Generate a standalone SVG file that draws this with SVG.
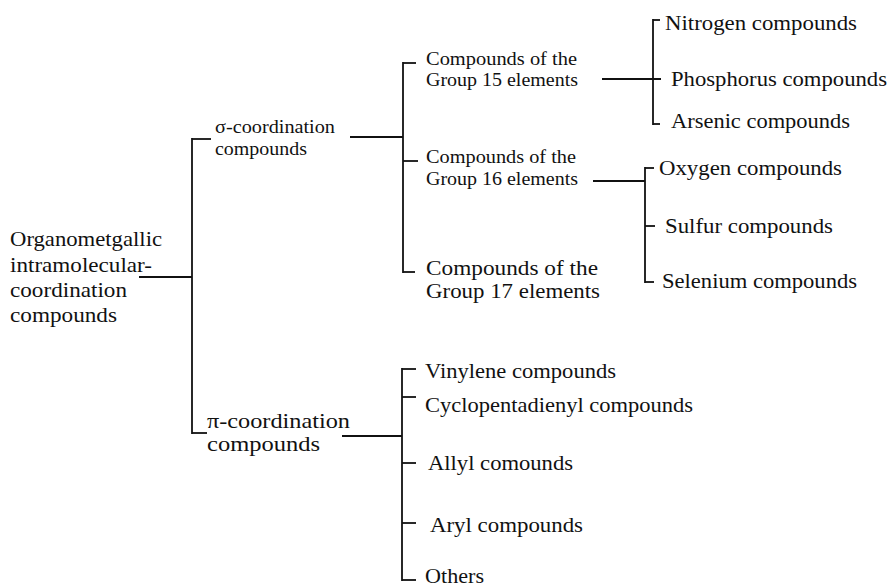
<svg xmlns="http://www.w3.org/2000/svg" width="894" height="587" viewBox="0 0 894 587">
<style>
  text { font-family: 'Liberation Serif', 'DejaVu Serif', 'Times New Roman', serif; fill: #111111; }
  .b { font-size: 22px; }
  .s { font-size: 18.5px; }
  .c line { stroke: #111111; stroke-width: 1.8; fill: none; }
</style>
<rect width="894" height="587" fill="#ffffff"/>
<g id="connectors" class="c">
  <line x1="139" y1="277" x2="192" y2="277"/>
  <line x1="192" y1="138.1" x2="192" y2="433.9"/>
  <line x1="192" y1="139" x2="211" y2="139"/>
  <line x1="192" y1="433" x2="207" y2="433"/>
  <line x1="350" y1="137" x2="403" y2="137"/>
  <line x1="403" y1="62.1" x2="403" y2="272.9"/>
  <line x1="403" y1="63" x2="416" y2="63"/>
  <line x1="403" y1="161" x2="418" y2="161"/>
  <line x1="403" y1="272" x2="415" y2="272"/>
  <line x1="602" y1="79" x2="661" y2="79"/>
  <line x1="653" y1="19.1" x2="653" y2="124.9"/>
  <line x1="653" y1="20" x2="660" y2="20"/>
  <line x1="653" y1="124" x2="660" y2="124"/>
  <line x1="593" y1="181" x2="645" y2="181"/>
  <line x1="645" y1="167.1" x2="645" y2="282.9"/>
  <line x1="645" y1="168" x2="654" y2="168"/>
  <line x1="645" y1="226" x2="655" y2="226"/>
  <line x1="645" y1="282" x2="654" y2="282"/>
  <line x1="342" y1="436" x2="402" y2="436"/>
  <line x1="402" y1="368.1" x2="402" y2="580.9"/>
  <line x1="402" y1="369" x2="416" y2="369"/>
  <line x1="402" y1="397" x2="416" y2="397"/>
  <line x1="402" y1="463" x2="416" y2="463"/>
  <line x1="402" y1="523" x2="416" y2="523"/>
  <line x1="402" y1="580" x2="416" y2="580"/>
</g>
<g id="root">
  <text class="b" x="10" y="246" textLength="152" lengthAdjust="spacingAndGlyphs">Organometgallic</text>
  <text class="b" x="10" y="272" textLength="142" lengthAdjust="spacingAndGlyphs">intramolecular-</text>
  <text class="b" x="10" y="297" textLength="117" lengthAdjust="spacingAndGlyphs">coordination</text>
  <text class="b" x="10" y="322" textLength="107" lengthAdjust="spacingAndGlyphs">compounds</text>
</g>
<g id="sigma">
  <text class="s" x="215" y="133" textLength="120" lengthAdjust="spacingAndGlyphs">σ-coordination</text>
  <text class="s" x="215" y="155" textLength="92" lengthAdjust="spacingAndGlyphs">compounds</text>
</g>
<g id="pi">
  <text class="b" x="207" y="428" textLength="143" lengthAdjust="spacingAndGlyphs">π-coordination</text>
  <text class="b" x="207" y="451" textLength="113" lengthAdjust="spacingAndGlyphs">compounds</text>
</g>
<g id="group15">
  <text class="s" x="426" y="65" textLength="151" lengthAdjust="spacingAndGlyphs">Compounds of the</text>
  <text class="s" x="426" y="86" textLength="152" lengthAdjust="spacingAndGlyphs">Group 15 elements</text>
</g>
<g id="group16">
  <text class="s" x="426" y="163" textLength="150" lengthAdjust="spacingAndGlyphs">Compounds of the</text>
  <text class="s" x="426" y="185" textLength="152" lengthAdjust="spacingAndGlyphs">Group 16 elements</text>
</g>
<g id="group17">
  <text class="b" x="426" y="275" textLength="172" lengthAdjust="spacingAndGlyphs">Compounds of the</text>
  <text class="b" x="426" y="298" textLength="174" lengthAdjust="spacingAndGlyphs">Group 17 elements</text>
</g>
<g id="nitrogen"><text class="b" x="665" y="30" textLength="192" lengthAdjust="spacingAndGlyphs">Nitrogen compounds</text></g>
<g id="phosphorus"><text class="b" x="671" y="86" textLength="216" lengthAdjust="spacingAndGlyphs">Phosphorus compounds</text></g>
<g id="arsenic"><text class="b" x="671" y="128" textLength="179" lengthAdjust="spacingAndGlyphs">Arsenic compounds</text></g>
<g id="oxygen"><text class="b" x="659" y="175" textLength="183" lengthAdjust="spacingAndGlyphs">Oxygen compounds</text></g>
<g id="sulfur"><text class="b" x="665" y="233" textLength="168" lengthAdjust="spacingAndGlyphs">Sulfur compounds</text></g>
<g id="selenium"><text class="b" x="662" y="288" textLength="195" lengthAdjust="spacingAndGlyphs">Selenium compounds</text></g>
<g id="vinylene"><text class="b" x="425" y="378" textLength="191" lengthAdjust="spacingAndGlyphs">Vinylene compounds</text></g>
<g id="cyclopentadienyl"><text class="b" x="425" y="412" textLength="268" lengthAdjust="spacingAndGlyphs">Cyclopentadienyl compounds</text></g>
<g id="allyl"><text class="b" x="428" y="470" textLength="145" lengthAdjust="spacingAndGlyphs">Allyl comounds</text></g>
<g id="aryl"><text class="b" x="430" y="532" textLength="153" lengthAdjust="spacingAndGlyphs">Aryl compounds</text></g>
<g id="others"><text class="b" x="425" y="583" textLength="59" lengthAdjust="spacingAndGlyphs">Others</text></g>
</svg>
